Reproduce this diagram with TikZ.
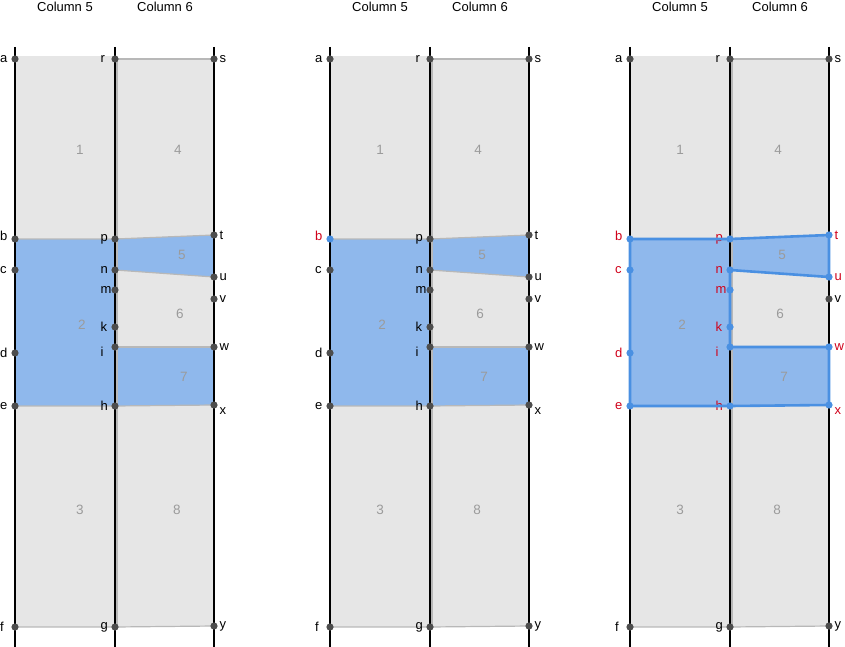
\documentclass[tikz,border=0pt]{standalone}
\usepackage{fontspec}
\setmainfont{Liberation Sans}

\definecolor{cellgrey}{HTML}{E6E6E6}
\definecolor{cellblue}{HTML}{8FB8EC}
\definecolor{edgegrey}{HTML}{B8B8B8}
\definecolor{dotgrey}{HTML}{4D4D4D}
\definecolor{numgrey}{HTML}{9B9B9B}
\definecolor{selblue}{HTML}{4A90E2}
\definecolor{selred}{HTML}{D0021B}

\makeatletter
% colours of a point: blue dot / red text when it is in the list
\newcommand\PickColours[2]{%
  \edef\@tmp{\noexpand\in@{,#1,}{,#2,}}\@tmp
  \ifin@\def\dotcol{selblue}\def\txtcol{selred}%
  \else\def\dotcol{dotgrey}\def\txtcol{black}\fi}
\makeatother

\tikzset{
  colline/.style={line width=1.9pt,black},
  celledge/.style={line width=1.2pt,edgegrey},
  seledge/.style={line width=2.6pt,selblue,line join=round},
  pt/.style={circle,inner sep=0pt,minimum size=7.2pt},
  lbl/.style={inner sep=0pt,font=\fontsize{13}{15}\selectfont},
  num/.style={inner sep=0pt,text=numgrey,font=\fontsize{13.5}{15}\selectfont},
  head/.style={inner sep=0pt,font=\fontsize{13}{15}\selectfont},
  lL/.style={anchor=west,xshift=-15pt},
  lM/.style={anchor=west,xshift=-14.5pt},
  lR/.style={anchor=west,xshift=5.5pt},
  lX/.style={anchor=west,xshift=5.5pt,yshift=-6pt},
}

\begin{document}
\begin{tikzpicture}[x=1pt,y=-1pt]
  \useasboundingbox (0,0) rectangle (845,647);

  \foreach \P/\dx/\nx/\sel in {A/-15/0/{},B/300/300/{b},C/600/600/{b,c,d,e,p,n,m,k,i,h,t,u,w,x}}{
    \begin{scope}[xshift=\dx pt]
      % column lines and points
      \foreach \c/\x in {1/30,2/130,3/229}{
        \coordinate (\P T\c) at (\x,47);
        \coordinate (\P B\c) at (\x,647);
      }
      \foreach \l/\x/\y in {a/30/59,b/30/239,c/30/270,d/30/353,e/30/406,f/30/627,
                            r/130/59,p/130/239,n/130/270,m/130/290,k/130/327,i/130/347,h/130/406,g/130/627,
                            s/229/59,t/229/235,u/229/277,v/229/299,w/229/347,x/229/405,y/229/626}
        \coordinate (\P\l) at (\x,\y);

      % cells
      \fill[cellgrey] ([yshift=3pt]\P a) rectangle (\P g);
      \fill[cellgrey] ([xshift=2pt]\P r) -- (\P s) -- (\P y) -- ([xshift=2pt]\P g) -- cycle;
      \fill[cellblue] (\P b) -- (\P p) -- (\P h) -- (\P e) -- cycle;
      \fill[cellblue] ([xshift=2pt]\P p) -- (\P t) -- (\P u) -- ([xshift=2pt]\P n) -- cycle;
      \fill[cellblue] ([xshift=2pt]\P i) -- (\P w) -- (\P x) -- ([xshift=2pt]\P h) -- cycle;

      \draw[celledge] ([xshift=2pt]\P r) -- (\P s);
      \draw[celledge] ([xshift=2pt]\P r) -- ([xshift=2pt]\P g);
      \draw[celledge] (\P f) -- (\P g) -- (\P y);
      \draw[celledge] (\P b) -- (\P p) -- (\P t);
      \draw[celledge] (\P n) -- (\P u);
      \draw[celledge] (\P i) -- (\P w);
      \draw[celledge] (\P e) -- (\P h) -- (\P x);

      \draw[colline] (\P T1) -- (\P B1);
      \draw[colline] (\P T2) -- (\P B2);
      \draw[colline] (\P T3) -- (\P B3);

      \node[head] (\P h5) at (80,7) {Column 5};
      \node[head] (\P h6) at (180,7) {Column 6};

      % dots and their letters
      \foreach \l/\side/\dy in {a/lL/0,b/lL/3,c/lL/0,d/lL/0,e/lL/0,f/lL/0,
                                r/lM/0,p/lM/0,n/lM/0,m/lM/0,k/lM/0,i/lM/-4.5,h/lM/0,g/lM/0,
                                s/lR/0,t/lR/0,u/lR/0,v/lR/0,w/lR/0,x/lX/0,y/lR/0}{
        \PickColours{\l}{\sel}
        \node[lbl,\side,yshift=\dy pt,text=\txtcol] (\P l\l) at (\P\l) {\l};
        \node[pt,fill=\dotcol] (\P d\l) at (\P\l) {};
      }
    \end{scope}

    % cell numbers
    \begin{scope}[xshift=\nx pt]
      \foreach \n/\x/\y in {1/80/150,4/178/150,2/82/325,5/182/255,6/180/314,7/184/377,3/80/510,8/177/510}
        \node[num] (\P n\n) at (\x,\y) {\n};
    \end{scope}
  }

  % selected outline in the third panel
  \draw[seledge] (Cb) -- (Cp) -- (Ct) -- (Cu) -- (Cn) -- (Cm) -- (Ck) -- (Ci) -- (Cw) -- (Cx) -- (Ch) -- (Ce) -- cycle;
\end{tikzpicture}
\end{document}
